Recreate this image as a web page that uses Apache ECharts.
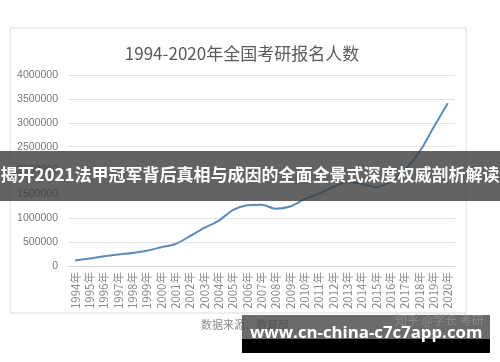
<!DOCTYPE html>
<html><head><meta charset="utf-8">
<script src="https://cdn.jsdelivr.net/npm/echarts@6/dist/echarts.min.js"></script>
<style>html,body{margin:0;padding:0;background:#fff}#c{width:500px;height:362px}</style>
</head><body><div id="c"></div>
<script>
var years = ['1994年','1995年','1996年','1997年','1998年','1999年','2000年','2001年','2002年','2003年','2004年','2005年','2006年','2007年','2008年','2009年','2010年','2011年','2012年','2013年','2014年','2015年','2016年','2017年','2018年','2019年','2020年'];
var applicants = [113000,155000,204000,242000,274000,319000,392000,460000,624000,797000,945000,1172000,1270000,1282000,1200000,1246000,1400000,1510000,1656000,1760000,1720000,1649000,1770000,2010000,2380000,2900000,3410000];
var chartTitle = '1994-2020年全国考研报名人数';
var sourceText = '数据来源：教育部';
var bannerText = '揭开2021法甲冠军背后真相与成因的全面全景式深度权威剖析解读';
var urlText = 'www.cn-china-c7c7app.com';
var watermarkText = '知乎 @学长 考研';

var chart = echarts.init(document.getElementById('c'), null, {renderer:'canvas'});
chart.setOption({
  animation:false,
  backgroundColor:'#fff',
  title:{text:chartTitle,left:237,textAlign:'center',top:40,
    textStyle:{fontSize:17,fontWeight:'normal',color:'#595959',fontFamily:'"Noto Sans CJK SC", sans-serif'}},
  grid:{left:68,right:45,top:75,bottom:96,containLabel:false},
  xAxis:{type:'category',data:years,boundaryGap:true,
    axisTick:{show:false},
    axisLine:{show:true,lineStyle:{color:'#d9d9d9'}},
    axisLabel:{rotate:90,interval:0,fontSize:11.5,color:'#8c8c8c',margin:6,fontFamily:'"Noto Sans CJK SC", sans-serif'}},
  yAxis:{type:'value',min:0,max:4000000,interval:500000,
    axisLine:{show:false},axisTick:{show:false},
    splitLine:{lineStyle:{color:'#e3e3e3'}},
    axisLabel:{fontSize:10.5,color:'#777',margin:10,formatter:function(v){return String(v);},fontFamily:'"Liberation Sans", sans-serif'}},
  series:[{type:'line',data:applicants,smooth:0.3,symbol:'none',
    lineStyle:{color:'#5a8bbb',width:2}}],
  graphic:[
    {type:'rect',z:-10,shape:{x:10,y:28,width:456,height:285},style:{fill:'none',stroke:'#dcdcdc',lineWidth:1}},
    {type:'text',z:5,left:201,top:319,style:{text:sourceText,fontSize:11,fill:'#8a8a8a',fontFamily:'"Noto Sans CJK SC", sans-serif'}},
    {type:'rect',z:100,shape:{x:0,y:151,width:500,height:50},style:{fill:'rgba(60,60,60,0.8)'}},
    {type:'text',z:101,left:'center',top:166,style:{text:bannerText,fontSize:17,fontWeight:'bold',fill:'#fff',fontFamily:'"Noto Sans CJK SC", sans-serif'}},
    {type:'rect',z:100,shape:{x:242,y:315,width:248,height:24},style:{fill:'rgba(70,70,70,0.8)'}},
    {type:'rect',z:100,shape:{x:242,y:339,width:248,height:14},style:{fill:'#000'}},
    {type:'text',z:101,left:395,top:314,style:{text:watermarkText,fontSize:12,fill:'rgba(150,150,150,0.7)',fontFamily:'"Noto Sans CJK SC", sans-serif'}},
    {type:'text',z:102,left:250,top:325,style:{text:urlText,fontSize:16.8,fontWeight:'bold',fill:'#fff',fontFamily:'"Open Sans", sans-serif'}}
  ]
});
</script></body></html>
